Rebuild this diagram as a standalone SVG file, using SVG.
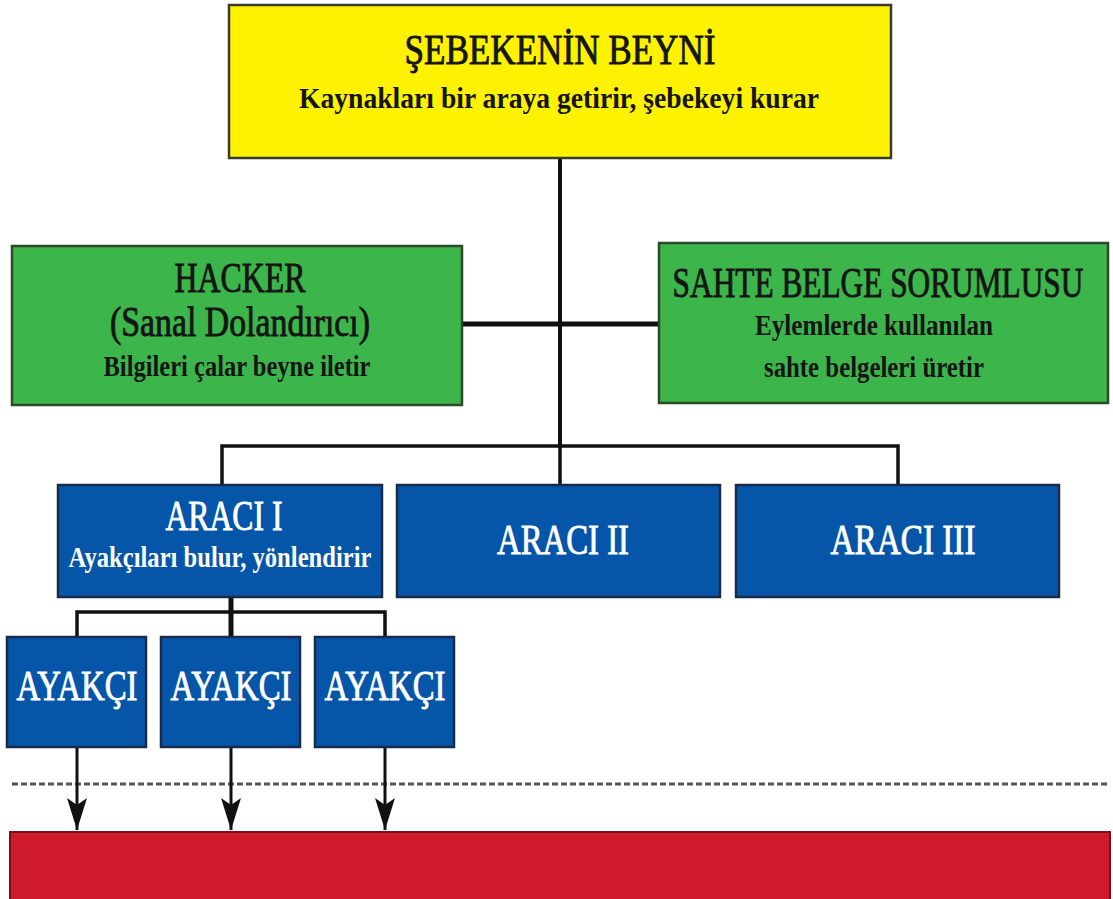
<svg xmlns="http://www.w3.org/2000/svg" width="1113" height="899" viewBox="0 0 1113 899">
<defs>
<style>
.t{font-family:"Liberation Serif","Times New Roman",serif;text-anchor:middle}
.ti{font-size:42px;font-weight:normal;stroke-width:0.9px}
.sub{font-size:30px;font-weight:bold}
.dk{fill:#151515;stroke:#151515}
.sub.dk{stroke:none}
.wh{fill:#ffffff;stroke:#ffffff}
.sub.wh{stroke:none}
.yel{fill:#fff200;stroke:#3a3a2a;stroke-width:2.5}
.grn{fill:#3cb54a;stroke:#2a4a2a;stroke-width:2.5}
.blu{fill:#0556a8;stroke:#1a2a4a;stroke-width:2.5}
.red{fill:#ce1a2b;stroke:#7a1018;stroke-width:2}
.ln{fill:none;stroke:#111;stroke-linecap:square}
.arr{stroke:#111;stroke-width:3}
</style>
<marker id="ah" viewBox="0 0 32 20" refX="32" refY="10" markerWidth="32" markerHeight="20" markerUnits="userSpaceOnUse" orient="auto">
<path d="M0,0 L32,10 L0,20 L7,10 Z" fill="#111"/>
</marker>
</defs>
<rect width="1113" height="899" fill="#ffffff"/>
<g id="connectors">
<line class="ln" x1="560" y1="158" x2="560" y2="446" stroke-width="4"/>
<line class="ln" x1="462" y1="324" x2="658" y2="324" stroke-width="5"/>
<polyline class="ln" points="222,485 222,446 898,446 898,485" stroke-width="3.5"/>
<line class="ln" x1="560" y1="446" x2="560" y2="485" stroke-width="3.5"/>
<line class="ln" x1="231" y1="597" x2="231" y2="637" stroke-width="5"/>
<polyline class="ln" points="77,637 77,612 385,612 385,637" stroke-width="3.5"/>
<line x1="12" y1="784" x2="1108" y2="784" stroke="#555" stroke-width="3" stroke-dasharray="6,3"/>
<line class="arr" x1="77" y1="748" x2="77" y2="830" marker-end="url(#ah)"/>
<line class="arr" x1="231" y1="748" x2="231" y2="830" marker-end="url(#ah)"/>
<line class="arr" x1="385" y1="748" x2="385" y2="830" marker-end="url(#ah)"/>
</g>
<g id="beyin">
<rect class="yel" x="229" y="5" width="662" height="153"/>
<text class="t ti dk" x="560" y="64" textLength="311" lengthAdjust="spacingAndGlyphs">ŞEBEKENİN BEYNİ</text>
<text class="t sub dk" x="559" y="108" textLength="520" lengthAdjust="spacingAndGlyphs">Kaynakları bir araya getirir, şebekeyi kurar</text>
</g>
<g id="hacker">
<rect class="grn" x="12" y="246" width="450" height="159"/>
<text class="t ti dk" x="240" y="292" textLength="131" lengthAdjust="spacingAndGlyphs">HACKER</text>
<text class="t ti dk" x="240" y="336" textLength="260" lengthAdjust="spacingAndGlyphs">(Sanal Dolandırıcı)</text>
<text class="t sub dk" x="237" y="376" textLength="267" lengthAdjust="spacingAndGlyphs">Bilgileri çalar beyne iletir</text>
</g>
<g id="sahte">
<rect class="grn" x="659" y="243" width="449" height="160"/>
<text class="t ti dk" x="0" y="0" transform="translate(878,297) scale(0.746,1)">SAHTE BELGE SORUMLUSU</text>
<text class="t sub dk" x="874" y="335" textLength="238" lengthAdjust="spacingAndGlyphs">Eylemlerde kullanılan</text>
<text class="t sub dk" x="874" y="377" textLength="220" lengthAdjust="spacingAndGlyphs">sahte belgeleri üretir</text>
</g>
<g id="araci1">
<rect class="blu" x="58" y="485" width="324" height="112"/>
<text class="t ti wh" x="224" y="530" textLength="117" lengthAdjust="spacingAndGlyphs">ARACI I</text>
<text class="t sub wh" x="220" y="567" textLength="303" lengthAdjust="spacingAndGlyphs">Ayakçıları bulur, yönlendirir</text>
</g>
<g id="araci2">
<rect class="blu" x="397" y="485" width="323" height="112"/>
<text class="t ti wh" x="563" y="554" textLength="132" lengthAdjust="spacingAndGlyphs">ARACI II</text>
</g>
<g id="araci3">
<rect class="blu" x="736" y="485" width="323" height="112"/>
<text class="t ti wh" x="903" y="554" textLength="145" lengthAdjust="spacingAndGlyphs">ARACI III</text>
</g>
<g id="ayakci1">
<rect class="blu" x="7" y="637" width="139" height="110"/>
<text class="t ti wh" x="77" y="700" textLength="121" lengthAdjust="spacingAndGlyphs">AYAKÇI</text>
</g>
<g id="ayakci2">
<rect class="blu" x="161" y="637" width="139" height="110"/>
<text class="t ti wh" x="231" y="700" textLength="121" lengthAdjust="spacingAndGlyphs">AYAKÇI</text>
</g>
<g id="ayakci3">
<rect class="blu" x="315" y="637" width="139" height="110"/>
<text class="t ti wh" x="385" y="700" textLength="121" lengthAdjust="spacingAndGlyphs">AYAKÇI</text>
</g>
<g id="hedef">
<rect class="red" x="10" y="832" width="1100" height="70"/>
</g>
</svg>
